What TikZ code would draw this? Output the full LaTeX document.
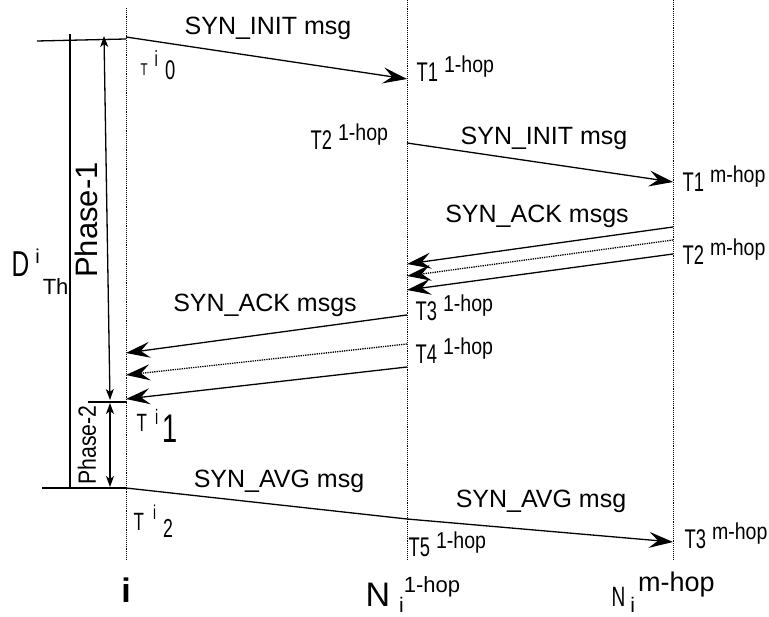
\documentclass[tikz,border=0pt]{standalone}
\usepackage{fontspec}
\setmainfont{Liberation Sans}
\newfontfamily\condfont[FakeStretch=0.68]{Liberation Sans}
\newfontfamily\supfont[FakeStretch=0.85]{Liberation Sans}
\usetikzlibrary{arrows.meta}
\newcommand{\fsz}[1]{\fontsize{#1}{#1}\selectfont}
\newcommand{\thop}[2]{{\condfont\fsz{27}#1}\hspace{6pt}\raisebox{9pt}{\supfont\fsz{23}#2}}

\begin{document}
\begin{tikzpicture}[x=1pt,y=-1pt,line width=1.3pt,
  lifeline/.style={densely dotted,line width=0.9pt},
  msg/.style={-{Stealth[length=24pt,width=16pt,inset=9pt]}},
  msgdot/.style={msg,densely dotted},
  phase/.style={{Stealth[length=11pt,width=8pt,inset=3pt]}-{Stealth[length=11pt,width=8pt,inset=3pt]}},
  lbl/.style={inner sep=0pt,anchor=base west},
  syn/.style={inner sep=0pt,anchor=base,font=\fsz{25}}]
  \useasboundingbox (0,0) rectangle (769,617);

  \coordinate (iTop) at (126,8);
  \coordinate (iBot) at (126,560);
  \coordinate (hTop) at (407,0);
  \coordinate (hBot) at (407,560);
  \coordinate (mTop) at (673,0);
  \coordinate (mBot) at (673,560);
  \draw[lifeline] (iTop) -- (iBot);
  \draw[lifeline] (hTop) -- (hBot);
  \draw[lifeline] (mTop) -- (mBot);

  \coordinate (i0) at (126,37);
  \coordinate (h1) at (407,79);
  \coordinate (h2) at (407,143);
  \coordinate (m1) at (673,182);
  \coordinate (m2a) at (673,227);
  \coordinate (m2b) at (673,240);
  \coordinate (m2c) at (673,254);
  \coordinate (h3a) at (407,264);
  \coordinate (h3b) at (407,276);
  \coordinate (h3c) at (407,290);
  \coordinate (h4a) at (407,315);
  \coordinate (h4b) at (407,344);
  \coordinate (h4c) at (407,367);
  \coordinate (i1a) at (126,353);
  \coordinate (i1b) at (126,375);
  \coordinate (i1c) at (126,399);
  \coordinate (i2) at (126,488);
  \coordinate (h5) at (407,519);
  \coordinate (m3) at (673,542);

  \draw[msg] (i0) -- (h1);
  \draw[msg] (h2) -- (m1);
  \draw[msg] (m2a) -- (h3a);
  \draw[msgdot] (m2b) -- (h3b);
  \draw[msg] (m2c) -- (h3c);
  \draw[msg] (h4a) -- (i1a);
  \draw[msgdot] (h4b) -- (i1b);
  \draw[msg] (h4c) -- (i1c);
  \draw[msg] (i2) -- (h5) -- (m3);

  \coordinate (topL) at (37,41);
  \coordinate (topR) at (126,39);
  \coordinate (midL) at (88,402);
  \coordinate (midR) at (127,402);
  \coordinate (botL) at (42,488);
  \coordinate (dTop) at (70,34);
  \coordinate (dBot) at (70,488);
  \coordinate (p1Top) at (104,36);
  \coordinate (p1Bot) at (110,400);
  \coordinate (p2Top) at (110,403);
  \coordinate (p2Bot) at (110,487);
  \draw (topL) -- (topR);
  \draw (midL) -- (midR);
  \draw (botL) -- (i2);
  \draw (dTop) -- (dBot);
  \draw[phase] (p1Top) -- (p1Bot);
  \draw[phase] (p2Top) -- (p2Bot);

  \node[syn] (initA) at (268,35) {SYN\_INIT msg};
  \node[syn] (initB) at (544,145) {SYN\_INIT msg};
  \node[syn] (ackB) at (537,223) {SYN\_ACK msgs};
  \node[syn] (ackA) at (265,312) {SYN\_ACK msgs};
  \node[syn] (avgA) at (279,488) {SYN\_AVG msg};
  \node[syn] (avgB) at (541,508) {SYN\_AVG msg};

  \node[lbl] (t1h) at (416,82) {\thop{T1}{1-hop}};
  \node[lbl] (t2h) at (310,150) {\thop{T2}{1-hop}};
  \node[lbl] (t1m) at (682,192) {\thop{T1}{m-hop}};
  \node[lbl] (t2m) at (682,265) {\thop{T2}{m-hop}};
  \node[lbl] (t3h) at (415,321) {\thop{T3}{1-hop}};
  \node[lbl] (t4h) at (415,364) {\thop{T4}{1-hop}};
  \node[lbl] (t5h) at (408,557) {\thop{T5}{1-hop}};
  \node[lbl] (t3m) at (684,548) {\thop{T3}{m-hop}};

  \node[lbl] (ti0) at (140,76) {{\condfont\fsz{17}T}\hspace{7pt}\raisebox{9pt}{\condfont\fsz{22}i}\hspace{7pt}\raisebox{-4pt}{\condfont\fsz{27}0}};
  \node[lbl] (ti1) at (136,432) {{\condfont\fsz{25}T}\hspace{8pt}\raisebox{7pt}{\condfont\fsz{21}i}\hspace{4pt}\raisebox{-11pt}{\condfont\fsz{40}1}};
  \node[lbl] (ti2) at (133,530) {{\condfont\fsz{25}T}\hspace{9pt}\raisebox{10pt}{\condfont\fsz{20}i}\hspace{7pt}\raisebox{-7pt}{\condfont\fsz{26}2}};

  \node[lbl] (dth) at (11,277) {{\condfont\fsz{36}D}\hspace{6pt}\raisebox{13pt}{\fsz{20}i}\hspace{3pt}\raisebox{-18pt}{\fsz{22}Th}};
  \node[rotate=90,inner sep=0pt,font=\fsz{31}] (ph1) at (86,220) {Phase-1};
  \node[rotate=90,inner sep=0pt,font=\supfont\fsz{25}] (ph2) at (87,445) {Phase-2};

  \node[inner sep=0pt,anchor=base] (ilab) at (126,602) {\bfseries\fsz{34}i};
  \node[lbl] (n1lab) at (365,606) {\fsz{34}N\hspace{9pt}\raisebox{-6pt}{\fsz{21}i}\raisebox{14pt}{\fsz{22}1-hop}};
  \node[lbl] (nmlab) at (611,606) {{\condfont\fsz{28}N}\hspace{5pt}\raisebox{-6pt}{\fsz{21}i}\hspace{3pt}\raisebox{15pt}{\fsz{27}m-hop}};
\end{tikzpicture}
\end{document}
